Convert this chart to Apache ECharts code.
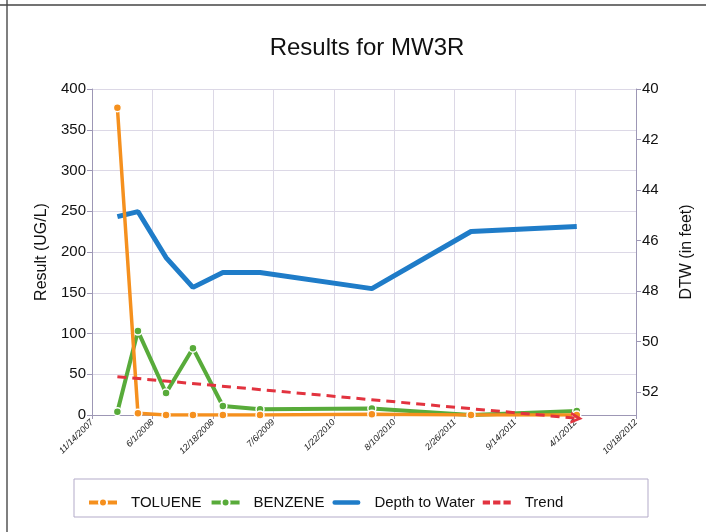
<!DOCTYPE html>
<html>
<head>
<meta charset="utf-8">
<script src="https://cdn.jsdelivr.net/npm/echarts@6/dist/echarts.min.js"></script>
<style>
html,body{margin:0;padding:0;background:#fff;}
#c{width:706px;height:532px;}
</style>
</head>
<body>
<div id="c"></div>
<script>
// ---- data ----
const sampleDates = ['2/6/2008','4/14/2008','7/16/2008','10/13/2008','1/20/2009','5/23/2009','5/28/2010','4/21/2011','4/5/2012'];
const toluene = [377, 2, 0, 0, 0, 0, 1, 0, 0];
const benzene = [4, 103, 27, 82, 11, 7, 8, 0, 5];
const depthToWater = [45.05, 44.85, 46.67, 47.85, 47.26, 47.26, 47.9, 45.64, 45.44];
const trendDates = ['2/6/2008','4/5/2012'];
const trendValues = [47, -4];
const axisStartDate = '11/14/2007';
const axisStepDays = 200;
const axisSteps = 9;
const resultTicks = [0, 50, 100, 150, 200, 250, 300, 350, 400];
const dtwTicks = [40, 42, 44, 46, 48, 50, 52];

// ---- helpers ----
function parseUS(s){ const p = s.split('/').map(Number); return Date.UTC(p[2], p[0]-1, p[1]); }
const base = parseUS(axisStartDate);
const DAY = 86400000;
function dayOf(s){ return Math.round((parseUS(s) - base) / DAY); }
function fmtDay(v){ const d = new Date(base + v*DAY); return (d.getUTCMonth()+1)+'/'+d.getUTCDate()+'/'+d.getUTCFullYear(); }
const xs = sampleDates.map(dayOf);
const pair = (arr) => arr.map((v,i)=>[xs[i], v]);

const FONT = 'Liberation Sans';
const axisCol = '#9d97b5';
const gridCol = '#dcd8e6';
const C_TOL = '#f5901e', C_BEN = '#58ab3a', C_DTW = '#1f7cc8', C_TR = '#e2333f';

const chart = echarts.init(document.getElementById('c'), null, {renderer:'canvas'});
const trendData = trendDates.map((d,i)=>{
  const o = {value:[dayOf(d), trendValues[i]]};
  if (i === trendDates.length-1) {
    o.symbol = 'path://M0,0 L12,6 L0,12 L0,9 L6,6 L0,3 Z';
    o.symbolSize = [12,12]; o.symbolRotate = -5;
  } else { o.symbol = 'none'; }
  return o;
});

chart.setOption({
  backgroundColor:'#ffffff',
  animation:false,
  textStyle:{fontFamily:FONT},
  title:{
    text:'Results for MW3R', left:362, textAlign:'center', top:31,
    textStyle:{fontFamily:FONT, fontSize:24, fontWeight:'normal', color:'#111'}
  },
  graphic:[
    {type:'line', shape:{x1:7,y1:0,x2:7,y2:532}, style:{stroke:'#555',lineWidth:1.5}},
    {type:'line', shape:{x1:0,y1:5,x2:706,y2:5}, style:{stroke:'#444',lineWidth:1.5}},
    {type:'rect', shape:{x:74,y:479,width:574,height:38}, style:{fill:'none',stroke:'#b3abc9',lineWidth:1}},
  ],
  legend:{
    left:82, top:490, itemWidth:28, itemHeight:10, itemGap:8,
    textStyle:{fontFamily:FONT, fontSize:15, color:'#111', padding:[0,0,0,9]},
    data:[
      {name:'TOLUENE', lineStyle:{width:4}},
      {name:'BENZENE', lineStyle:{width:4}},
      {name:'Depth to Water', icon:'path://M2,0h26a2,2 0 0 1 0,5h-26a2,2 0 0 1 0,-5z'},
      {name:'Trend', icon:'path://M0,0h7v4h-7z M10,0h7v4h-7z M20,0h7v4h-7z'}
    ]
  },
  grid:{left:92, right:70, top:89, bottom:117},
  xAxis:{
    type:'value', min:0, max:axisStepDays*axisSteps, interval:axisStepDays,
    axisLine:{show:true, lineStyle:{color:axisCol}},
    axisTick:{show:true, length:4, lineStyle:{color:axisCol}},
    splitLine:{show:true, lineStyle:{color:gridCol}},
    axisLabel:{rotate:45, fontSize:9, fontStyle:'italic', color:'#222', formatter:fmtDay, margin:6}
  },
  yAxis:[
    {
      type:'value', min:resultTicks[0], max:resultTicks[resultTicks.length-1], interval:50,
      name:'Result (UG/L)', nameLocation:'middle', nameGap:42, nameRotate:90,
      nameTextStyle:{fontFamily:FONT, fontSize:16, color:'#111'},
      axisLine:{show:true, lineStyle:{color:axisCol}},
      axisTick:{show:true, length:5, lineStyle:{color:axisCol}},
      splitLine:{show:true, lineStyle:{color:gridCol}},
      axisLabel:{fontSize:15, color:'#111', margin:6}
    },
    {
      type:'value', min:dtwTicks[0], max:52.9, interval:2, inverse:true, position:'right',
      name:'DTW (in feet)', nameLocation:'middle', nameGap:43, nameRotate:90,
      nameTextStyle:{fontFamily:FONT, fontSize:16, color:'#111'},
      axisLine:{show:true, lineStyle:{color:axisCol}},
      axisTick:{show:true, length:5, lineStyle:{color:axisCol}},
      splitLine:{show:false},
      axisLabel:{fontSize:15, color:'#111', margin:6, showMaxLabel:false,
        formatter:v=> dtwTicks.indexOf(v) >= 0 ? String(v) : ''}
    }
  ],
  series:[
    {
      name:'Depth to Water', type:'line', yAxisIndex:1, data:pair(depthToWater),
      symbol:'none', z:2,
      lineStyle:{color:C_DTW, width:5},
      itemStyle:{color:C_DTW}
    },
    {
      name:'BENZENE', type:'line', data:pair(benzene),
      symbol:'circle', symbolSize:8, z:3,
      lineStyle:{color:C_BEN, width:4},
      itemStyle:{color:C_BEN, borderColor:'#fff', borderWidth:1.5}
    },
    {
      name:'TOLUENE', type:'line', data:pair(toluene),
      symbol:'circle', symbolSize:8, z:4,
      lineStyle:{color:C_TOL, width:3.5},
      itemStyle:{color:C_TOL, borderColor:'#fff', borderWidth:1.5}
    },
    {
      name:'Trend', type:'line', data:trendData, z:5, clip:false,
      lineStyle:{color:C_TR, width:3, type:[9,6]},
      itemStyle:{color:C_TR}
    }
  ]
});
</script>
</body>
</html>
